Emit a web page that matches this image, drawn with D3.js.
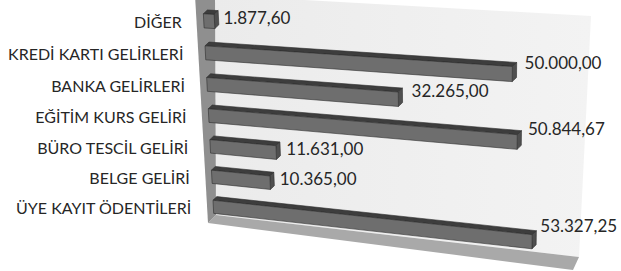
<!DOCTYPE html>
<html><head><meta charset="utf-8">
<script src="https://cdn.jsdelivr.net/npm/d3@7"></script>
<style>html,body{margin:0;padding:0;background:#fff;overflow:hidden}</style>
</head><body>
<svg id="chart" width="621" height="271"></svg>
<script>
// ---- data ----
const categories = ["DİĞER", "KREDİ KARTI GELİRLERİ", "BANKA GELİRLERİ", "EĞİTİM KURS GELİRİ", "BÜRO TESCİL GELİRİ", "BELGE GELİRİ", "ÜYE KAYIT ÖDENTİLERİ"];
const values = [1877.60, 50000.00, 32265.00, 50844.67, 11631.00, 10365.00, 53327.25];
const valueLabels = ["1.877,60", "50.000,00", "32.265,00", "50.844,67", "11.631,00", "10.365,00", "53.327,25"];
const axisDomain = [0, 60000];

// ---- projection helpers (3D perspective look) ----
function solveLinear(A, b) {
  const n = b.length, M = A.map((r, i) => [...r, b[i]]);
  for (let c = 0; c < n; c++) {
    let p = c;
    for (let r = c + 1; r < n; r++) if (Math.abs(M[r][c]) > Math.abs(M[p][c])) p = r;
    [M[c], M[p]] = [M[p], M[c]];
    for (let r = 0; r < n; r++) {
      if (r === c) continue;
      const f = M[r][c] / M[c][c];
      for (let k = c; k <= n; k++) M[r][k] -= f * M[c][k];
    }
  }
  return M.map((r, i) => r[n] / r[i]);
}
function homography(src, dst) {
  const A = [], b = [];
  src.forEach(([x, y], i) => {
    const [X, Y] = dst[i];
    A.push([x, y, 1, 0, 0, 0, -X * x, -X * y]); b.push(X);
    A.push([0, 0, 0, x, y, 1, -Y * x, -Y * y]); b.push(Y);
  });
  const h = solveLinear(A, b);
  return (x, y) => {
    const w = h[6] * x + h[7] * y + 1;
    return [(h[0] * x + h[1] * y + h[2]) / w, (h[3] * x + h[4] * y + h[5]) / w, w];
  };
}

const svg = d3.select("#chart");

// scales
const u = d3.scaleLinear().domain(axisDomain).range([0, 1]);
const row = d3.scaleBand().domain(categories).range([0, 7]).paddingInner(0.56).paddingOuter(0.28);

// plane of the bar fronts
const Hb = homography([[0, 0], [1, 0], [0, 7], [1, 7]],
                      [[202.9, 4.7], [581, 26.1], [214.1, 221.7], [575.4, 262.7]]);
// plane of the value labels
const Hl = homography([[0, 0.5], [1, 0.5], [0, 6.5], [1, 6.5]],
                      [[212, 17], [591, 32], [220, 206], [582, 228]]);
const depth = [4, -3.8];
function P(v, r, z) {
  const [x, y, w] = Hb(u(v), r);
  return [x + z * depth[0] / w, y + z * depth[1] / w];
}

// ---- walls / floor ----
const defs = svg.append("defs");
const g = defs.append("linearGradient").attr("id", "wallGrad").attr("x1", 0).attr("x2", 1).attr("y1", 0).attr("y2", 0);
g.append("stop").attr("offset", 0).attr("stop-color", "#ebebeb");
g.append("stop").attr("offset", 1).attr("stop-color", "#f3f3f3");

const frame = {
  back: [[215, -5], [591, 16], [579, 257], [216, 215]],
  side: [[195, -5], [215, -5], [216, 215], [208, 223]],
  floor: [[216, 215], [579, 257], [573, 270], [208, 223]]
};
const line = d3.line();
svg.append("path").attr("d", line(frame.back) + "Z").attr("fill", "url(#wallGrad)");
svg.append("path").attr("d", line(frame.floor) + "Z").attr("fill", "#a9a9a9");
svg.append("path").attr("d", line(frame.side) + "Z").attr("fill", "#8f8f8f");

// ---- bars ----
const bars = svg.append("g");
categories.forEach((c, i) => {
  const v = values[i];
  const rt = row(c), rb = rt + row.bandwidth();
  const top = [P(0, rt, 0), P(v, rt, 0), P(v, rt, 1), P(0, rt, 1)];
  const end = [P(v, rt, 0), P(v, rb, 0), P(v, rb, 1), P(v, rt, 1)];
  const front = [P(0, rt, 0), P(v, rt, 0), P(v, rb, 0), P(0, rb, 0)];
  const gg = bars.append("g").attr("stroke", "#2e2e2e").attr("stroke-width", 0.6).attr("stroke-linejoin", "round");
  gg.append("path").attr("d", line(top) + "Z").attr("fill", "#3d3d3d");
  gg.append("path").attr("d", line(end) + "Z").attr("fill", "#4f4f4f");
  gg.append("path").attr("d", line(front) + "Z").attr("fill", "#6e6e6e");
});

// ---- category labels ----
const catFs = 16;
svg.append("g").selectAll("text").data(categories).join("text")
  .attr("x", d => Hb(0, row(d) + row.bandwidth() / 2)[0] - 22)
  .attr("y", d => Hb(0, row(d) + row.bandwidth() / 2)[1] + 1.5 + catFs * 0.36)
  .attr("text-anchor", "end")
  .attr("font-family", "Lato, 'Open Sans', sans-serif")
  .attr("font-size", catFs)
  .attr("fill", "#262626")
  .text(d => d);

// ---- value labels ----
const valFs = 17;
svg.append("g").selectAll("text").data(categories).join("text")
  .attr("x", (d, i) => Hl(u(values[i]), row(d) + row.bandwidth() / 2)[0])
  .attr("y", (d, i) => Hl(u(values[i]), row(d) + row.bandwidth() / 2)[1] + valFs * 0.36)
  .attr("font-family", "Lato, 'Open Sans', sans-serif")
  .attr("font-size", valFs)
  .attr("fill", "#262626")
  .text((d, i) => valueLabels[i]);
</script>
</body></html>
